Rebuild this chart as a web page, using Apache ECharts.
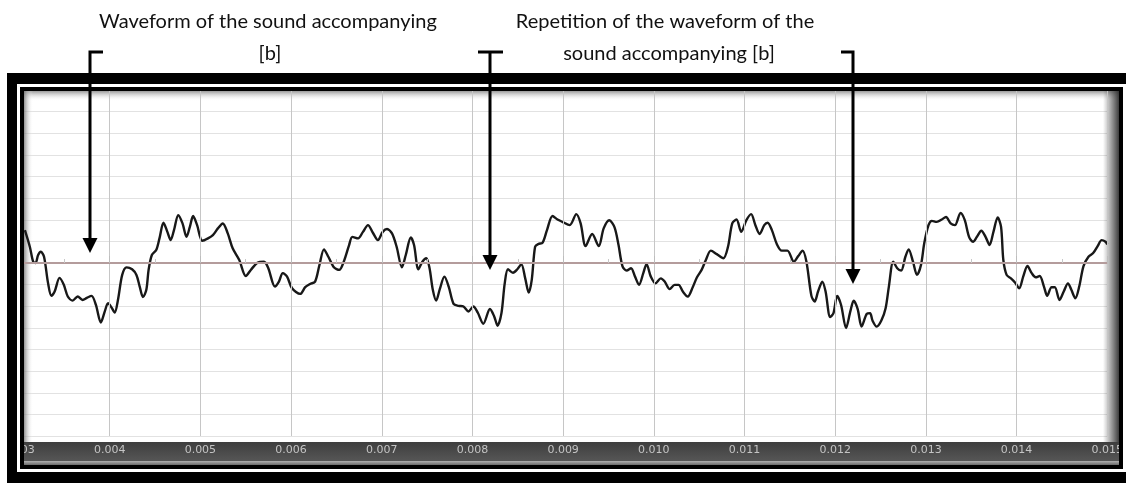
<!DOCTYPE html>
<html>
<head>
<meta charset="utf-8">
<script src="https://cdn.jsdelivr.net/npm/echarts@6/dist/echarts.min.js"></script>
<style>
html,body{margin:0;padding:0;background:#fff;}
#chart{width:1126px;height:483px;}
</style>
</head>
<body>
<div id="chart"></div>
<script>
// time in milliseconds (axis labels shown in seconds)
const times = [
3.065,3.120,3.156,3.182,3.211,3.240,3.276,3.320,3.357,3.393,3.447,3.494,3.538,3.592,3.647,3.701,3.749,3.800,3.848,3.902,3.946,3.982,4.018,4.055,4.091,4.138,4.186,4.247,4.295,4.331,4.367,4.404,4.429,4.465,4.513,4.549,4.593,4.636,4.672,4.709,4.756,4.803,4.847,4.884,4.920,4.964,5.021,5.084,5.138,5.193,5.247,5.302,5.356,5.429,5.501,5.556,5.629,5.702,5.749,5.822,5.866,5.909,5.956,6.011,
6.101,6.156,6.210,6.265,6.313,6.363,6.411,6.472,6.531,6.581,6.640,6.676,6.739,6.793,6.848,6.902,6.957,7.011,7.058,7.113,7.164,7.222,7.265,7.320,7.356,7.404,7.448,7.491,7.527,7.563,7.600,7.640,7.691,7.738,7.792,7.847,7.901,7.956,8.010,8.058,8.120,8.193,8.240,8.277,8.320,8.356,8.392,8.447,8.495,8.539,8.582,8.621,8.654,8.691,8.727,8.774,8.822,8.883,8.938,8.992,
9.073,9.145,9.193,9.248,9.320,9.393,9.447,9.509,9.567,9.611,9.654,9.701,9.749,9.793,9.837,9.884,9.920,9.967,10.018,10.077,10.120,10.175,10.229,10.273,10.320,10.374,10.429,10.476,10.527,10.574,10.629,10.694,10.767,10.818,10.865,10.912,10.964,11.021,11.073,11.120,11.167,11.218,11.255,11.302,11.356,11.411,11.473,11.545,11.593,11.640,11.683,11.738,11.774,11.811,11.858,11.894,11.945,11.981,
12.022,12.065,12.120,12.167,12.204,12.248,12.291,12.349,12.385,12.411,12.458,12.509,12.556,12.592,12.640,12.684,12.727,12.774,12.810,12.858,12.902,12.946,12.982,13.029,13.066,13.120,13.175,13.222,13.273,13.320,13.382,13.429,13.476,13.520,13.563,13.611,13.658,13.702,13.745,13.792,13.829,13.854,13.890,13.938,13.985,14.029,14.073,14.120,14.167,14.211,14.255,14.302,14.338,14.386,14.422,14.473,14.520,14.567,14.604,14.648,14.691,14.738,14.793,14.847,14.894,14.938,14.981,15.000
];
const amps = [
1.52,0.74,0.06,0,0.37,0.52,0.29,-0.92,-1.52,-1.32,-0.69,-1.01,-1.55,-1.74,-1.55,-1.71,-1.61,-1.52,-1.94,-2.75,-2.24,-1.86,-2.04,-2.29,-1.71,-0.55,-0.20,-0.29,-0.55,-1.09,-1.58,-1.24,-0.32,0.37,0.60,1.14,1.86,1.44,1.06,1.52,2.21,1.83,1.21,1.67,2.17,1.75,1.03,1.14,1.29,1.60,1.83,1.37,0.68,0.14,-0.60,-0.32,0.01,0.06,-0.24,-1.09,-0.86,-0.47,-0.63,-1.17,
-1.43,-1.12,-0.97,-0.86,-0.09,0.63,0.29,-0.20,-0.32,0.06,0.83,1.21,1.14,1.44,1.75,1.40,1.06,1.44,1.57,1.37,0.75,-0.20,0.37,1.18,0.83,-0.29,0.06,0.22,-0.24,-1.24,-1.74,-1.21,-0.63,-1.09,-1.89,-1.98,-2.01,-2.24,-2.01,-2.29,-2.81,-2.13,-2.47,-2.90,-2.32,-0.94,-0.29,-0.45,-0.29,-0.05,-0.71,-1.37,-0.78,0.75,0.88,0.94,1.52,2.17,2.01,1.90,
1.75,2.26,1.83,0.78,1.34,0.78,1.60,1.98,1.65,0.83,-0.14,-0.35,-0.24,-0.63,-1.01,-0.47,-0.05,-0.63,-0.94,-0.71,-0.86,-1.21,-1.01,-1.01,-1.32,-1.55,-1.12,-0.66,-0.32,0.14,0.57,0.41,0.22,0.75,1.83,2.01,1.44,1.98,2.26,1.75,1.34,1.75,1.86,1.52,0.88,0.57,0.57,0.06,0.32,0.57,0.06,-1.52,-1.78,-1.32,-0.86,-1.32,-2.50,-2.32,
-1.52,-1.94,-3.01,-2.24,-1.74,-2.13,-2.94,-2.35,-2.32,-2.66,-2.94,-2.66,-2.09,-1.09,0.06,-0.24,-0.35,0.29,0.63,0.06,-0.55,-0.09,0.91,1.75,1.95,1.90,2.01,2.13,1.83,1.75,2.32,1.98,1.21,0.98,1.21,1.49,1.21,0.83,1.44,2.11,1.67,0.14,-0.55,-0.71,-0.91,-1.17,-0.63,-0.14,-0.47,-0.66,-0.60,-1.09,-1.52,-1.12,-1.12,-1.71,-1.32,-0.94,-1.24,-1.63,-1.09,-0.14,0.29,0.47,0.78,1.06,0.98,0.86
];
const tickValues = [3,4,5,6,7,8,9,10,11,12,13,14,15];
const tickLabels = ['0.003','0.004','0.005','0.006','0.007','0.008','0.009','0.010','0.011','0.012','0.013','0.014','0.015'];
const annotations = [
  ['Waveform of the sound accompanying', '[b]'],
  ['Repetition of the waveform of the', 'sound accompanying [b]']
];

const data = times.map((t, i) => [t, amps[i]]);
const chart = echarts.init(document.getElementById('chart'), null, {renderer: 'canvas'});

const K = 110;
const black = '#000';
const txtFont = '20px Lato';
function rect(x, y, w, h, fill, z) {
  return {type: 'rect', z: z, silent: true, shape: {x: x, y: y, width: w, height: h}, style: {fill: fill}};
}
function lin(x0, y0, x1, y1, c0, c1) {
  return new echarts.graphic.LinearGradient(x0, y0, x1, y1, [{offset: 0, color: c0}, {offset: 1, color: c1}]);
}

const graphics = [
  // inner shading / ruler bar
  rect(24, 91, 1095, 10, lin(0,0,0,1,'rgba(120,120,120,0.75)','rgba(255,255,255,0)'), 1),
  rect(24, 91, 9, 352, lin(0,0,1,0,'rgba(110,110,110,0.75)','rgba(255,255,255,0)'), 1),
  rect(1103, 91, 16, 352, lin(0,0,1,0,'rgba(60,60,60,0)','rgba(40,40,40,0.9)'), 1),
  rect(17, 442, 1106, 19, lin(0,0,0,1,'#3e3e3e','#565656'), 1),
  rect(17, 461, 1106, 4, lin(0,0,0,1,'#b0b0b0','#6a6a6a'), 1),
  // frame: outer black
  rect(0, 0, 7, 483, '#fff', 100),
  rect(7, 73, 10, 410, black, 100),
  rect(7, 73, 1119, 11, black, 100),
  rect(7, 472, 1119, 11, black, 100),
  // white gap
  rect(17, 84, 3, 388, '#fff', 100),
  rect(17, 84, 1109, 3, '#fff', 100),
  rect(17, 469, 1109, 3, '#fff', 100),
  rect(1123, 84, 3, 388, '#fff', 100),
  // inner black
  rect(20, 87, 4, 382, black, 101),
  rect(20, 87, 1103, 4, black, 101),
  rect(1119, 87, 4, 382, black, 101),
  rect(20, 465, 1103, 4, black, 101),
  // arrows
  {type: 'polyline', z: K, silent: true, shape: {points: [[103,52],[90,52],[90,240]]}, style: {stroke: black, lineWidth: 3, fill: null}},
  {type: 'polygon', z: K, silent: true, shape: {points: [[82.5,238],[97.5,238],[90,253]]}, style: {fill: black}},
  {type: 'polyline', z: K, silent: true, shape: {points: [[478,52],[503,52]]}, style: {stroke: black, lineWidth: 3, fill: null}},
  {type: 'polyline', z: K, silent: true, shape: {points: [[490,52],[490,257]]}, style: {stroke: black, lineWidth: 3, fill: null}},
  {type: 'polygon', z: K, silent: true, shape: {points: [[482.5,255],[497.5,255],[490,270]]}, style: {fill: black}},
  {type: 'polyline', z: K, silent: true, shape: {points: [[841,52],[853,52],[853,271]]}, style: {stroke: black, lineWidth: 3, fill: null}},
  {type: 'polygon', z: K, silent: true, shape: {points: [[845.5,269],[860.5,269],[853,284]]}, style: {fill: black}},
  // texts
  {type: 'text', z: K, silent: true, style: {text: annotations[0][0], x: 268, y: 22, font: txtFont, fill: '#111', textAlign: 'center', textVerticalAlign: 'middle'}},
  {type: 'text', z: K, silent: true, style: {text: annotations[0][1], x: 270, y: 54, font: txtFont, fill: '#111', textAlign: 'center', textVerticalAlign: 'middle'}},
  {type: 'text', z: K, silent: true, style: {text: annotations[1][0], x: 665, y: 22, font: txtFont, fill: '#111', textAlign: 'center', textVerticalAlign: 'middle'}},
  {type: 'text', z: K, silent: true, style: {text: annotations[1][1], x: 669, y: 54, font: txtFont, fill: '#111', textAlign: 'center', textVerticalAlign: 'middle'}}
];

chart.setOption({
  animation: false,
  backgroundColor: '#fff',
  grid: {left: 19, top: 90, width: 1100, height: 346},
  xAxis: {
    type: 'value', min: 3, max: 15, interval: 1, z: 5,
    axisLine: {show: false},
    axisTick: {show: true, inside: true, length: 7, lineStyle: {color: '#bdbdbd'}},
    minorTick: {show: true, splitNumber: 2, length: 4, lineStyle: {color: '#c8c8c8'}},
    splitLine: {show: true, lineStyle: {color: '#c6c6c6', width: 1}},
    axisLabel: {
      margin: 9, color: '#c4c4c4', fontSize: 11, fontFamily: 'DejaVu Sans',
      formatter: function (v) { const i = tickValues.indexOf(Math.round(v)); return i >= 0 ? tickLabels[i] : ''; }
    }
  },
  yAxis: {
    type: 'value', min: -8, max: 8, interval: 1,
    axisLine: {show: false}, axisTick: {show: false}, axisLabel: {show: false},
    splitLine: {show: true, lineStyle: {color: '#e2e2e2', width: 1}}
  },
  series: [{
    type: 'line', data: data, showSymbol: false, smooth: 0.3, z: 3,
    lineStyle: {color: '#181818', width: 2.4},
    markLine: {
      silent: true, symbol: 'none', label: {show: false},
      lineStyle: {color: '#b49c9c', width: 2, type: 'solid'},
      data: [{yAxis: 0}]
    }
  }],
  graphic: {elements: graphics}
});
</script>
</body>
</html>
